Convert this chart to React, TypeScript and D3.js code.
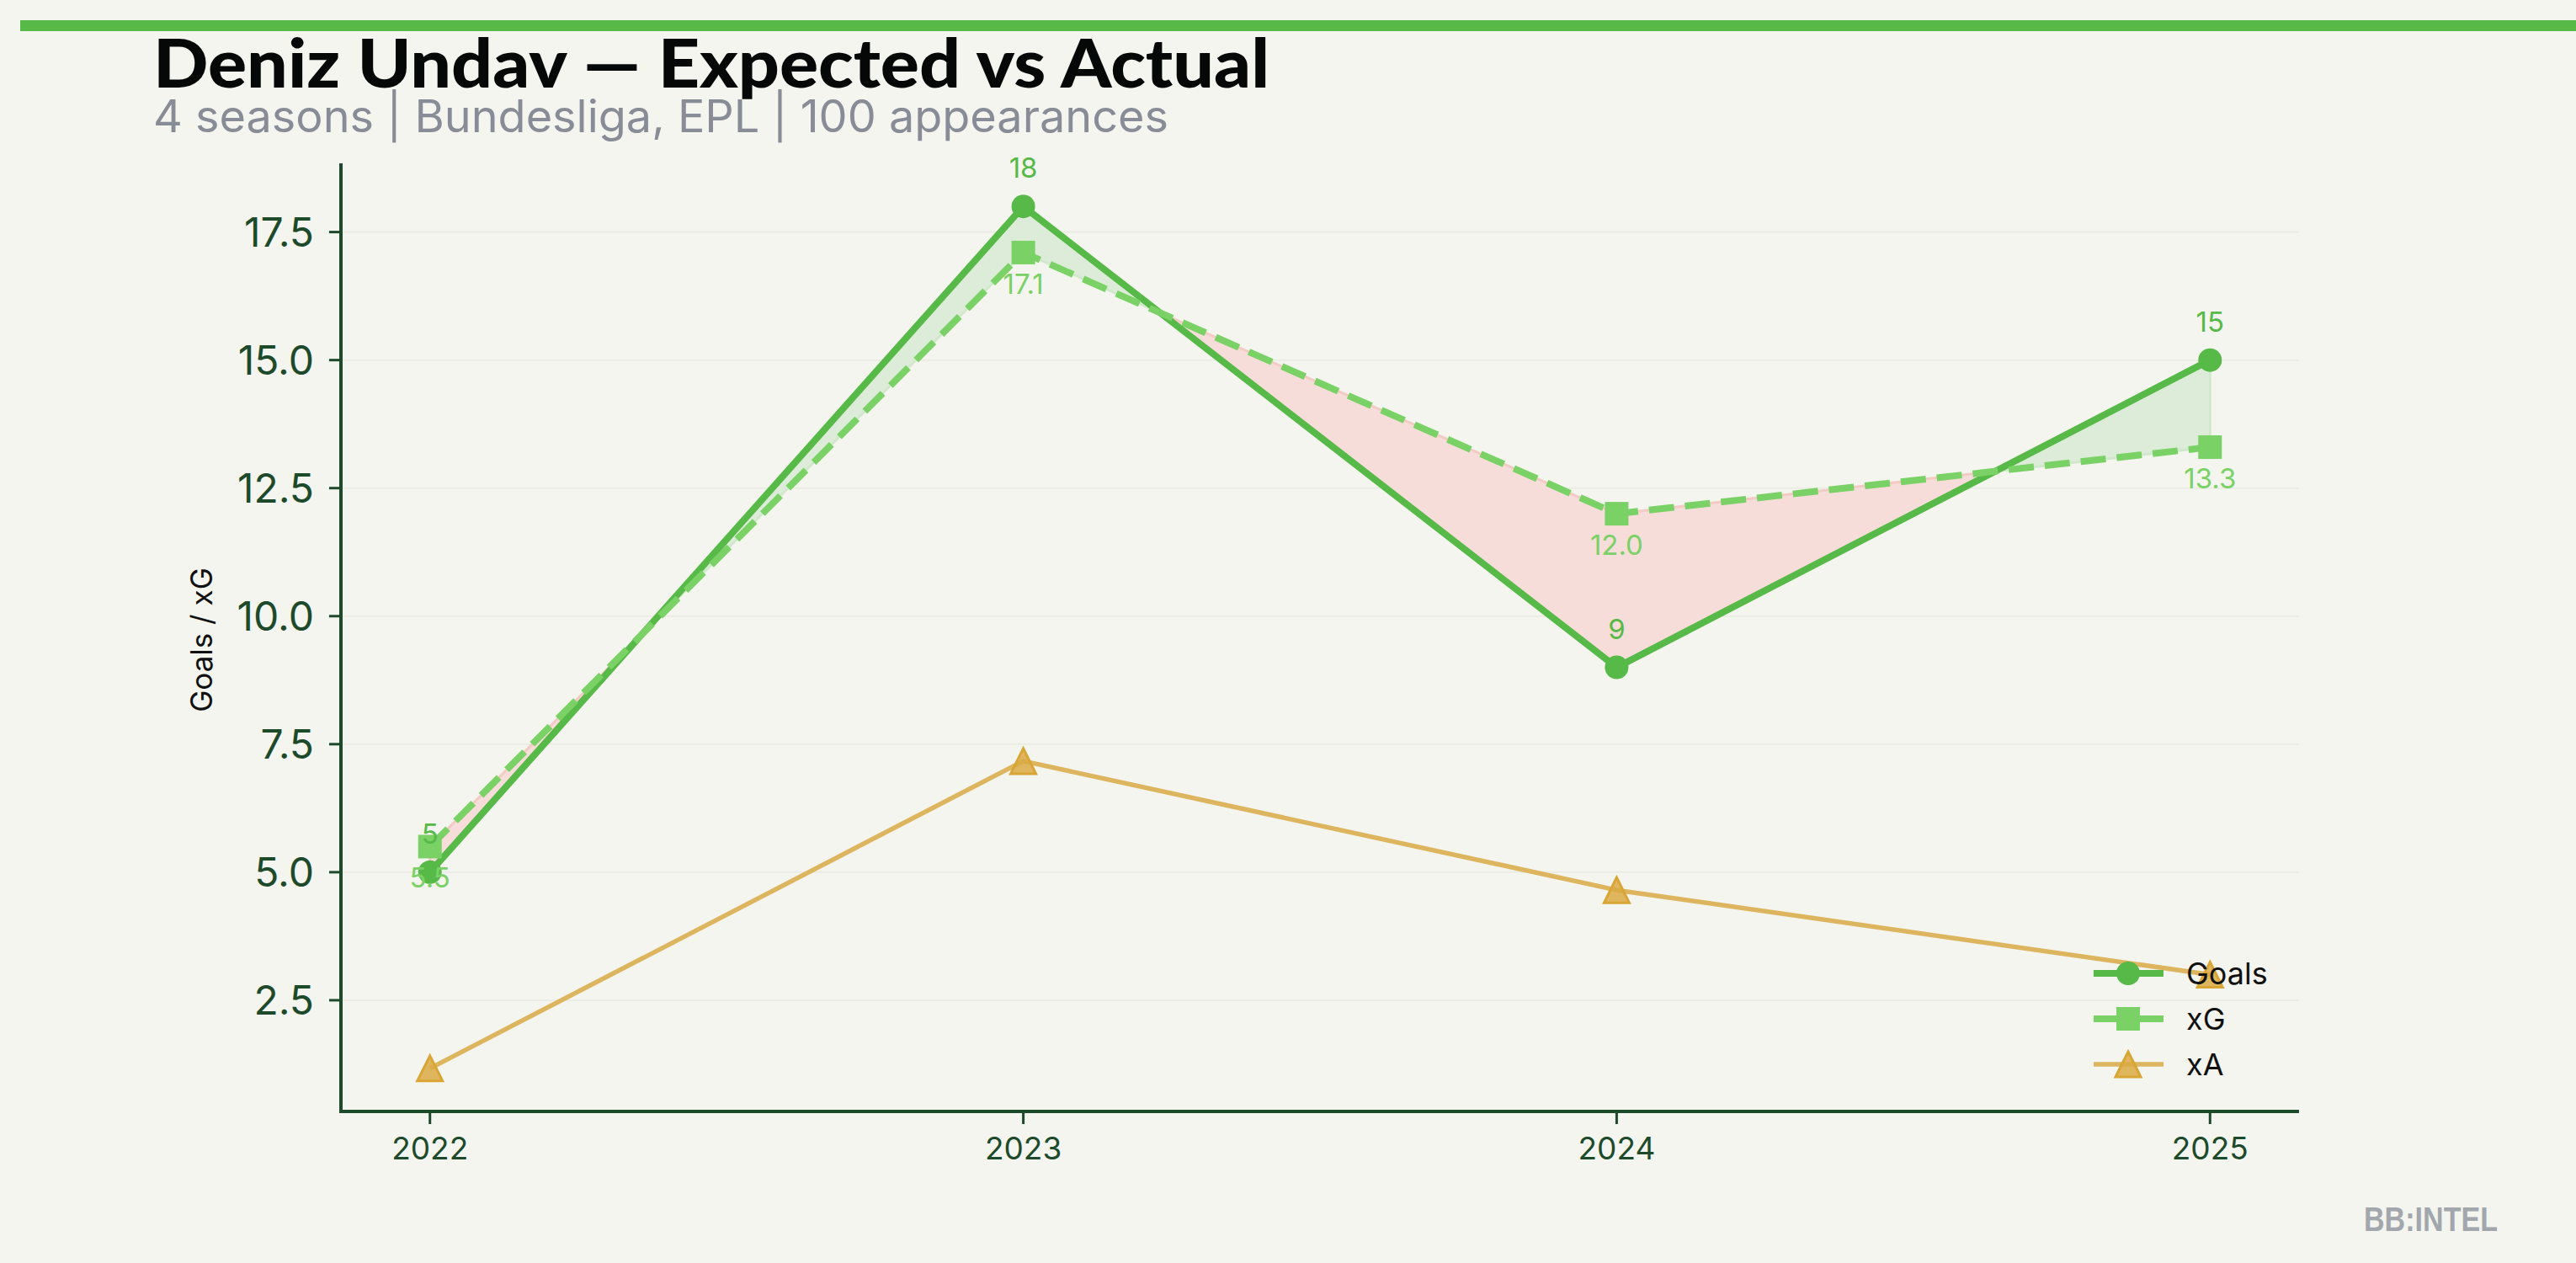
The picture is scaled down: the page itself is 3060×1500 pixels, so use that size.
import React from 'react';
import * as d3 from 'd3';

const seasons = [2022, 2023, 2024, 2025];
const goals = [5, 18, 9, 15];
const xG = [5.5, 17.1, 12.0, 13.3];
const xA = [1.17, 7.17, 4.65, 3.0];
const yTicks = [2.5, 5, 7.5, 10, 12.5, 15, 17.5];

const W = 3060;
const H = 1500;
const BG = '#f4f5ef';
const GOALS_C = '#57b947';
const XG_C = '#7ad166';
const XA_C = '#ddb55f';
const AXIS_C = '#1d4a2a';
const FONT = 'Inter, "Noto Sans", sans-serif';

const plot = { left: 405, right: 2731, top: 194, bottom: 1320 };

// matplotlib-like 5% margins
const xPad = (d3.max(seasons)! - d3.min(seasons)!) * 0.05;
const all = [...goals, ...xG, ...xA];
const yMin = d3.min(all)!;
const yMax = d3.max(all)!;
const yPad = (yMax - yMin) * 0.05;

const x = d3.scaleLinear()
  .domain([d3.min(seasons)! - xPad, d3.max(seasons)! + xPad])
  .range([plot.left, plot.right]);
const y = d3.scaleLinear()
  .domain([yMin - yPad, yMax + yPad])
  .range([plot.bottom, plot.top]);

// split goals/xG band into over / under regions
function bandRegions() {
  const pts: { s: number; g: number; e: number; d: number }[] = [];
  seasons.forEach((s, i) => {
    pts.push({ s, g: goals[i], e: xG[i], d: goals[i] - xG[i] });
    if (i < seasons.length - 1) {
      const d0 = goals[i] - xG[i];
      const d1 = goals[i + 1] - xG[i + 1];
      if (d0 * d1 < 0) {
        const t = d0 / (d0 - d1);
        const gs = goals[i] + t * (goals[i + 1] - goals[i]);
        pts.push({ s: s + t * (seasons[i + 1] - s), g: gs, e: gs, d: 0 });
      }
    }
  });
  const regions: { over: boolean; pts: typeof pts }[] = [];
  let cur: typeof pts = [];
  pts.forEach((p, i) => {
    cur.push(p);
    if ((p.d === 0 && cur.length > 1) || i === pts.length - 1) {
      const ref = cur.find(q => q.d !== 0);
      regions.push({ over: ref ? ref.d >= 0 : true, pts: cur });
      cur = [p];
    }
  });
  return regions;
}

const line = d3.line<number>()
  .x((_, i) => x(seasons[i]))
  .y(d => y(d));

function Triangle({ cx, cy }: { cx: number; cy: number }) {
  const s = 15;
  return (
    <path
      d={`M${cx},${cy - s} L${cx + s},${cy + s} L${cx - s},${cy + s} Z`}
      fill="#dba944"
      fillOpacity={0.85}
      stroke="#d9a534"
      strokeWidth={3}
      strokeLinejoin="miter"
    />
  );
}

export default function App() {
  const regions = bandRegions();
  const legendRows = [
    { label: 'Goals', color: GOALS_C, kind: 'circle' },
    { label: 'xG', color: XG_C, kind: 'square' },
    { label: 'xA', color: XA_C, kind: 'triangle' },
  ];

  return (
    <div style={{ position: 'absolute', left: 0, top: 0, width: W, height: H }}>
      <svg width={W} height={H} style={{ display: 'block' }}>
        <rect width={W} height={H} fill={BG} />
        <rect x={24} y={24} width={W - 24} height={13} fill={GOALS_C} />

        <text x={182} y={104} fontFamily='Lato, "Noto Sans", sans-serif' fontWeight={900}
          fontSize={80} fill="#050807" textLength={1326} lengthAdjust="spacingAndGlyphs">
          Deniz Undav — Expected vs Actual
        </text>
        <text x={182} y={157} fontFamily={FONT} fontSize={53} fill="#878c96"
          textLength={1206} lengthAdjust="spacingAndGlyphs">
          4 seasons | Bundesliga, EPL | 100 appearances
        </text>

        {/* grid */}
        {yTicks.map(t => (
          <line key={t} x1={plot.left} x2={plot.right} y1={y(t)} y2={y(t)}
            stroke="#ebede5" strokeWidth={2} />
        ))}

        {/* over / under band */}
        {regions.map((r, i) => {
          const top = r.pts.map(p => [x(p.s), y(p.g)]);
          const bot = r.pts.map(p => [x(p.s), y(p.e)]).reverse();
          const d = 'M' + [...top, ...bot].map(p => p.join(',')).join('L') + 'Z';
          return (
            <path key={i} d={d}
              fill={r.over ? '#ddecd8' : '#f7ddd9'}
              stroke={r.over ? '#d2e8cc' : '#f3cbc5'}
              strokeWidth={3} />
          );
        })}

        {/* goals */}
        <path d={line(goals)!} fill="none" stroke={GOALS_C} strokeWidth={8} strokeLinejoin="round" />
        {goals.map((v, i) => (
          <circle key={i} cx={x(seasons[i])} cy={y(v)} r={14} fill={GOALS_C} />
        ))}

        {/* xG */}
        <path d={line(xG)!} fill="none" stroke={XG_C} strokeWidth={8} strokeDasharray="30,13" />
        {xG.map((v, i) => (
          <rect key={i} x={x(seasons[i]) - 14} y={y(v) - 14} width={28} height={28} fill={XG_C} />
        ))}

        {/* xA */}
        <path d={line(xA)!} fill="none" stroke={XA_C} strokeWidth={5.5} strokeLinejoin="round" />
        {xA.map((v, i) => (
          <Triangle key={i} cx={x(seasons[i])} cy={y(v)} />
        ))}

        {/* value labels */}
        {goals.map((v, i) => (
          <text key={'g' + i} x={x(seasons[i])} y={y(v) - 34} textAnchor="middle"
            fontFamily={FONT} fontSize={33} fill={GOALS_C}>{v}</text>
        ))}
        {xG.map((v, i) => (
          <text key={'e' + i} x={x(seasons[i])} y={y(v) + 49} textAnchor="middle"
            fontFamily={FONT} fontSize={33} fill={XG_C}>{v.toFixed(1)}</text>
        ))}

        {/* axes */}
        <line x1={plot.left} x2={plot.left} y1={plot.top} y2={plot.bottom + 2}
          stroke={AXIS_C} strokeWidth={4} />
        <line x1={plot.left - 2} x2={plot.right} y1={plot.bottom} y2={plot.bottom}
          stroke={AXIS_C} strokeWidth={4} />
        {yTicks.map(t => (
          <g key={t}>
            <line x1={plot.left - 14} x2={plot.left} y1={y(t)} y2={y(t)} stroke={AXIS_C} strokeWidth={3} />
            <text x={plot.left - 32} y={y(t)} dy="0.36em" textAnchor="end"
              fontFamily={FONT} fontSize={48} fill={AXIS_C}>{t.toFixed(1)}</text>
          </g>
        ))}
        {seasons.map(s => (
          <g key={s}>
            <line x1={x(s)} x2={x(s)} y1={plot.bottom} y2={plot.bottom + 15} stroke={AXIS_C} strokeWidth={3} />
            <text x={x(s)} y={1377} textAnchor="middle"
              fontFamily={FONT} fontSize={37} fill={AXIS_C}>{s}</text>
          </g>
        ))}
        <text transform="translate(252,760) rotate(-90)" textAnchor="middle"
          fontFamily={FONT} fontSize={35} fill="#111">Goals / xG</text>

        {/* legend */}
        {legendRows.map((r, i) => {
          const cy = 1156 + i * 54;
          const cx = 2528;
          return (
            <g key={r.label}>
              <line x1={2487} x2={2570} y1={cy} y2={cy} stroke={r.color}
                strokeWidth={r.kind === 'triangle' ? 5.5 : 8} />
              {r.kind === 'circle' && <circle cx={cx} cy={cy} r={14} fill={r.color} />}
              {r.kind === 'square' && <rect x={cx - 14} y={cy - 14} width={28} height={28} fill={r.color} />}
              {r.kind === 'triangle' && <Triangle cx={cx} cy={cy} />}
              <text x={2597} y={cy + 13} fontFamily={FONT} fontSize={36} fill="#111">{r.label}</text>
            </g>
          );
        })}

        <text x={2808} y={1462} fontFamily='"Liberation Sans Narrow", "Liberation Sans", sans-serif'
          fontWeight={700} fontSize={40} fill="#a2a6ad" textLength={159}
          lengthAdjust="spacingAndGlyphs">BB:INTEL</text>
      </svg>
    </div>
  );
}
